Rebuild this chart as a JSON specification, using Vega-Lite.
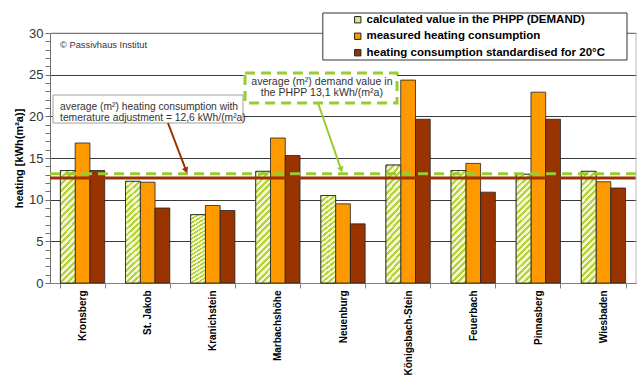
{
  "$schema": "https://vega.github.io/schema/vega-lite/v6.json",
  "width": 586,
  "height": 250,
  "autosize": {"type": "none"},
  "padding": {"left": 50, "top": 33, "right": 4, "bottom": 97},
  "background": "white",
  "config": {"font": "Liberation Sans", "view": {"stroke": null}},
  "datasets": {
    "bars": [
      {"site": "Kronsberg", "series": "calculated value in the PHPP (DEMAND)", "value": 13.5},
      {"site": "Kronsberg", "series": "measured heating consumption", "value": 16.8},
      {"site": "Kronsberg", "series": "heating consumption standardised for 20°C", "value": 13.5},
      {"site": "St. Jakob", "series": "calculated value in the PHPP (DEMAND)", "value": 12.2},
      {"site": "St. Jakob", "series": "measured heating consumption", "value": 12.1},
      {"site": "St. Jakob", "series": "heating consumption standardised for 20°C", "value": 9.0},
      {"site": "Kranichstein", "series": "calculated value in the PHPP (DEMAND)", "value": 8.2},
      {"site": "Kranichstein", "series": "measured heating consumption", "value": 9.3},
      {"site": "Kranichstein", "series": "heating consumption standardised for 20°C", "value": 8.7},
      {"site": "Marbachshöhe", "series": "calculated value in the PHPP (DEMAND)", "value": 13.4},
      {"site": "Marbachshöhe", "series": "measured heating consumption", "value": 17.4},
      {"site": "Marbachshöhe", "series": "heating consumption standardised for 20°C", "value": 15.3},
      {"site": "Neuenburg", "series": "calculated value in the PHPP (DEMAND)", "value": 10.5},
      {"site": "Neuenburg", "series": "measured heating consumption", "value": 9.5},
      {"site": "Neuenburg", "series": "heating consumption standardised for 20°C", "value": 7.1},
      {"site": "Königsbach-Stein", "series": "calculated value in the PHPP (DEMAND)", "value": 14.15},
      {"site": "Königsbach-Stein", "series": "measured heating consumption", "value": 24.35},
      {"site": "Königsbach-Stein", "series": "heating consumption standardised for 20°C", "value": 19.65},
      {"site": "Feuerbach", "series": "calculated value in the PHPP (DEMAND)", "value": 13.5},
      {"site": "Feuerbach", "series": "measured heating consumption", "value": 14.35},
      {"site": "Feuerbach", "series": "heating consumption standardised for 20°C", "value": 10.9},
      {"site": "Pinnasberg", "series": "calculated value in the PHPP (DEMAND)", "value": 13.05},
      {"site": "Pinnasberg", "series": "measured heating consumption", "value": 22.9},
      {"site": "Pinnasberg", "series": "heating consumption standardised for 20°C", "value": 19.65},
      {"site": "Wiesbaden", "series": "calculated value in the PHPP (DEMAND)", "value": 13.4},
      {"site": "Wiesbaden", "series": "measured heating consumption", "value": 12.15},
      {"site": "Wiesbaden", "series": "heating consumption standardised for 20°C", "value": 11.4}
    ]
  },
  "layer": [
    {
      "data": {"name": "bars"},
      "encoding": {
        "x": {
          "field": "site", "type": "nominal", "sort": null,
          "scale": {"paddingInner": 0.32, "paddingOuter": 0.16},
          "axis": {
            "title": null, "labelAngle": -90, "labelAlign": "right", "labelBaseline": "middle",
            "labelFont": "Liberation Sans", "labelFontWeight": "bold", "labelFontSize": 10,
            "labelColor": "#000000", "labelPadding": 2, "tickBand": "extent", "tickSize": 5,
            "tickColor": "#808080", "domainColor": "#808080", "grid": false
          }
        },
        "xOffset": {
          "field": "series", "type": "nominal",
          "sort": ["calculated value in the PHPP (DEMAND)", "measured heating consumption", "heating consumption standardised for 20°C"],
          "scale": {
            "domain": ["calculated value in the PHPP (DEMAND)", "measured heating consumption", "heating consumption standardised for 20°C"],
            "paddingInner": 0, "paddingOuter": 0
          }
        },
        "y": {
          "field": "value", "type": "quantitative",
          "scale": {"domain": [0, 30], "nice": false},
          "axis": {
            "title": "heating [kWh(m²a)]",
            "values": [0, 5, 10, 15, 20, 25, 30],
            "labelOverlap": false,
            "labelFont": "Liberation Sans", "labelFontSize": 13, "labelColor": "#333333",
            "labelPadding": 2, "tickSize": 5, "tickColor": "#707070", "domainColor": "#707070",
            "titleFont": "Liberation Sans", "titleFontWeight": "bold", "titleFontSize": 11,
            "titleColor": "#000000", "titlePadding": 4,
            "grid": true, "gridColor": "#3a3a3a", "gridOpacity": 1, "gridWidth": 1
          }
        }
      },
      "layer": [
        {
          "mark": {"type": "bar", "stroke": "#222222", "strokeWidth": 0.8},
          "encoding": {
            "color": {
              "field": "series", "type": "nominal",
              "scale": {
                "domain": ["calculated value in the PHPP (DEMAND)", "measured heating consumption", "heating consumption standardised for 20°C"],
                "range": ["#d6e98c", "#ff9900", "#993300"]
              },
              "legend": {
                "orient": "none", "legendX": 302, "legendY": -19, "title": null,
                "symbolType": "square", "symbolSize": 40, "symbolStrokeColor": "#222222", "symbolStrokeWidth": 1,
                "labelFont": "Liberation Sans", "labelFontWeight": "bold", "labelFontSize": 11.5,
                "labelColor": "#000000", "rowPadding": 3.5, "labelOffset": 3, "padding": 0, "labelLimit": 400
              }
            }
          }
        },
        {
          "transform": [{"filter": "datum.series === 'calculated value in the PHPP (DEMAND)'"}],
          "mark": {
            "type": "bar", "stroke": "#222222", "strokeWidth": 0.8,
            "fill": {
              "gradient": "linear", "x1": 0, "y1": 0, "x2": 1, "y2": 7.5,
              "stops": [
                {"offset": 0, "color": "#b4d23c"}, {"offset": 0.0034, "color": "#b4d23c"}, {"offset": 0.0034, "color": "#f2f8cc"},
                {"offset": 0.0076, "color": "#f2f8cc"}, {"offset": 0.0076, "color": "#b4d23c"}, {"offset": 0.011, "color": "#b4d23c"}, {"offset": 0.011, "color": "#f2f8cc"},
                {"offset": 0.0152, "color": "#f2f8cc"}, {"offset": 0.0152, "color": "#b4d23c"}, {"offset": 0.0186, "color": "#b4d23c"}, {"offset": 0.0186, "color": "#f2f8cc"},
                {"offset": 0.0228, "color": "#f2f8cc"}, {"offset": 0.0228, "color": "#b4d23c"}, {"offset": 0.0262, "color": "#b4d23c"}, {"offset": 0.0262, "color": "#f2f8cc"},
                {"offset": 0.0304, "color": "#f2f8cc"}, {"offset": 0.0304, "color": "#b4d23c"}, {"offset": 0.0338, "color": "#b4d23c"}, {"offset": 0.0338, "color": "#f2f8cc"},
                {"offset": 0.038, "color": "#f2f8cc"}, {"offset": 0.038, "color": "#b4d23c"}, {"offset": 0.0414, "color": "#b4d23c"}, {"offset": 0.0414, "color": "#f2f8cc"},
                {"offset": 0.0456, "color": "#f2f8cc"}, {"offset": 0.0456, "color": "#b4d23c"}, {"offset": 0.049, "color": "#b4d23c"}, {"offset": 0.049, "color": "#f2f8cc"},
                {"offset": 0.0532, "color": "#f2f8cc"}, {"offset": 0.0532, "color": "#b4d23c"}, {"offset": 0.0566, "color": "#b4d23c"}, {"offset": 0.0566, "color": "#f2f8cc"},
                {"offset": 0.0608, "color": "#f2f8cc"}, {"offset": 0.0608, "color": "#b4d23c"}, {"offset": 0.0642, "color": "#b4d23c"}, {"offset": 0.0642, "color": "#f2f8cc"},
                {"offset": 0.0684, "color": "#f2f8cc"}, {"offset": 0.0684, "color": "#b4d23c"}, {"offset": 0.0718, "color": "#b4d23c"}, {"offset": 0.0718, "color": "#f2f8cc"},
                {"offset": 0.076, "color": "#f2f8cc"}, {"offset": 0.076, "color": "#b4d23c"}, {"offset": 0.0794, "color": "#b4d23c"}, {"offset": 0.0794, "color": "#f2f8cc"},
                {"offset": 0.0836, "color": "#f2f8cc"}, {"offset": 0.0836, "color": "#b4d23c"}, {"offset": 0.087, "color": "#b4d23c"}, {"offset": 0.087, "color": "#f2f8cc"},
                {"offset": 0.0912, "color": "#f2f8cc"}, {"offset": 0.0912, "color": "#b4d23c"}, {"offset": 0.0946, "color": "#b4d23c"}, {"offset": 0.0946, "color": "#f2f8cc"},
                {"offset": 0.0988, "color": "#f2f8cc"}, {"offset": 0.0988, "color": "#b4d23c"}, {"offset": 0.1022, "color": "#b4d23c"}, {"offset": 0.1022, "color": "#f2f8cc"},
                {"offset": 0.1064, "color": "#f2f8cc"}, {"offset": 0.1064, "color": "#b4d23c"}, {"offset": 0.1098, "color": "#b4d23c"}, {"offset": 0.1098, "color": "#f2f8cc"},
                {"offset": 0.114, "color": "#f2f8cc"}, {"offset": 0.114, "color": "#b4d23c"}, {"offset": 0.1174, "color": "#b4d23c"}, {"offset": 0.1174, "color": "#f2f8cc"},
                {"offset": 0.1216, "color": "#f2f8cc"}, {"offset": 0.1216, "color": "#b4d23c"}, {"offset": 0.125, "color": "#b4d23c"}, {"offset": 0.125, "color": "#f2f8cc"},
                {"offset": 0.1292, "color": "#f2f8cc"}, {"offset": 0.1292, "color": "#b4d23c"}, {"offset": 0.1326, "color": "#b4d23c"}, {"offset": 0.1326, "color": "#f2f8cc"},
                {"offset": 0.1368, "color": "#f2f8cc"}, {"offset": 0.1368, "color": "#b4d23c"}, {"offset": 0.1402, "color": "#b4d23c"}, {"offset": 0.1402, "color": "#f2f8cc"},
                {"offset": 0.1444, "color": "#f2f8cc"}, {"offset": 0.1444, "color": "#b4d23c"}, {"offset": 0.1478, "color": "#b4d23c"}, {"offset": 0.1478, "color": "#f2f8cc"},
                {"offset": 0.152, "color": "#f2f8cc"}, {"offset": 0.152, "color": "#b4d23c"}, {"offset": 0.1554, "color": "#b4d23c"}, {"offset": 0.1554, "color": "#f2f8cc"},
                {"offset": 0.1596, "color": "#f2f8cc"}, {"offset": 0.1596, "color": "#b4d23c"}, {"offset": 0.163, "color": "#b4d23c"}, {"offset": 0.163, "color": "#f2f8cc"},
                {"offset": 1, "color": "#f2f8cc"}
              ]
            }
          }
        }
      ]
    },
    {
      "data": {"values": [{"value": 12.6}]},
      "mark": {"type": "rule", "color": "#993300", "strokeWidth": 3},
      "encoding": {
        "y": {
          "field": "value", "type": "quantitative",
          "axis": {
            "orient": "left", "title": null, "labels": false, "grid": false, "domain": false,
            "values": [1,2,3,4,6,7,8,9,11,12,13,14,16,17,18,19,21,22,23,24,26,27,28,29],
            "tickSize": 5, "tickColor": "#707070"
          }
        }
      }
    },
    {
      "data": {"values": [{"value": 13.1}]},
      "mark": {"type": "rule", "color": "#99cc33", "strokeWidth": 3, "strokeDash": [10, 6]},
      "encoding": {"y": {"field": "value", "type": "quantitative", "axis": null}}
    },
    {
      "layer": [
        {
          "data": {"values": [{"x": 0, "x2": 9, "value": 30}]},
          "mark": {"type": "rule", "color": "#b8b8b8", "strokeWidth": 1},
          "encoding": {
            "x": {"field": "x", "type": "quantitative", "scale": {"domain": [0, 9], "nice": false, "zero": false}, "axis": null},
            "x2": {"field": "x2"},
            "y": {"field": "value", "type": "quantitative", "axis": null}
          }
        },
        {
          "data": {"values": [{"x": 9, "value": 0, "value2": 30}]},
          "mark": {"type": "rule", "color": "#b8b8b8", "strokeWidth": 1},
          "encoding": {
            "x": {"field": "x", "type": "quantitative"},
            "y": {"field": "value", "type": "quantitative", "axis": null},
            "y2": {"field": "value2"}
          }
        },
        {
          "data": {"values": [{"x": 4.19, "x2": 8.862, "value": 32.4, "value2": 26.76}]},
          "mark": {"type": "rect", "fill": "white", "stroke": "#333333", "strokeWidth": 1},
          "encoding": {
            "x": {"field": "x", "type": "quantitative"}, "x2": {"field": "x2"},
            "y": {"field": "value", "type": "quantitative", "axis": null}, "y2": {"field": "value2"}
          }
        },
        {
          "data": {"values": [{"x": 0.046, "x2": 2.964, "value": 22.56, "value2": 19.2}]},
          "mark": {"type": "rect", "fill": "white", "stroke": "#a0a0a0", "strokeWidth": 1},
          "encoding": {
            "x": {"field": "x", "type": "quantitative"}, "x2": {"field": "x2"},
            "y": {"field": "value", "type": "quantitative", "axis": null}, "y2": {"field": "value2"}
          }
        },
        {
          "data": {"values": [{"x": 2.995, "x2": 5.33, "value": 25.2, "value2": 21.6}]},
          "mark": {"type": "rect", "fill": "white", "stroke": "#99cc33", "strokeWidth": 3, "strokeDash": [10, 6]},
          "encoding": {
            "x": {"field": "x", "type": "quantitative"}, "x2": {"field": "x2"},
            "y": {"field": "value", "type": "quantitative", "axis": null}, "y2": {"field": "value2"}
          }
        },
        {
          "data": {"values": [{"x": 1.812, "x2": 2.085, "value": 19.2, "value2": 13.6}]},
          "mark": {"type": "rule", "color": "#993300", "strokeWidth": 2},
          "encoding": {
            "x": {"field": "x", "type": "quantitative"}, "x2": {"field": "x2"},
            "y": {"field": "value", "type": "quantitative", "axis": null}, "y2": {"field": "value2"}
          }
        },
        {
          "data": {"values": [{"x": 2.09, "value": 13.5}]},
          "mark": {"type": "point", "shape": "triangle-down", "filled": true, "color": "#993300", "size": 45, "angle": -21, "opacity": 1},
          "encoding": {"x": {"field": "x", "type": "quantitative"}, "y": {"field": "value", "type": "quantitative", "axis": null}}
        },
        {
          "data": {"values": [{"x": 4.116, "x2": 4.465, "value": 21.6, "value2": 13.75}]},
          "mark": {"type": "rule", "color": "#99cc33", "strokeWidth": 2},
          "encoding": {
            "x": {"field": "x", "type": "quantitative"}, "x2": {"field": "x2"},
            "y": {"field": "value", "type": "quantitative", "axis": null}, "y2": {"field": "value2"}
          }
        },
        {
          "data": {"values": [{"x": 4.472, "value": 13.6}]},
          "mark": {"type": "point", "shape": "triangle-down", "filled": true, "color": "#99cc33", "size": 45, "angle": -19, "opacity": 1},
          "encoding": {"x": {"field": "x", "type": "quantitative"}, "y": {"field": "value", "type": "quantitative", "axis": null}}
        },
        {
          "data": {"values": [
            {"x": 0.154, "value": 21.16, "text": "average (m²) heating consumption with"},
            {"x": 0.154, "value": 19.76, "text": "temerature adjustment = 12,6 kWh/(m²a)"}
          ]},
          "mark": {"type": "text", "align": "left", "baseline": "middle", "font": "Liberation Sans", "fontSize": 10.3, "color": "#333333"},
          "encoding": {"x": {"field": "x", "type": "quantitative"}, "y": {"field": "value", "type": "quantitative", "axis": null}, "text": {"field": "text"}}
        },
        {
          "data": {"values": [
            {"x": 4.176, "value": 24.08, "text": "average (m²) demand value in"},
            {"x": 4.176, "value": 22.76, "text": "the PHPP 13,1 kWh/(m²a)"}
          ]},
          "mark": {"type": "text", "align": "center", "baseline": "middle", "font": "Liberation Sans", "fontSize": 10.6, "color": "#333333"},
          "encoding": {"x": {"field": "x", "type": "quantitative"}, "y": {"field": "value", "type": "quantitative", "axis": null}, "text": {"field": "text"}}
        },
        {
          "data": {"values": [{"x": 0.154, "value": 28.56, "text": "© Passivhaus Institut"}]},
          "mark": {"type": "text", "align": "left", "baseline": "middle", "font": "Liberation Sans", "fontSize": 9.3, "color": "#333333"},
          "encoding": {"x": {"field": "x", "type": "quantitative"}, "y": {"field": "value", "type": "quantitative", "axis": null}, "text": {"field": "text"}}
        }
      ]
    }
  ],
  "resolve": {"scale": {"x": "independent"}, "axis": {"x": "independent", "y": "independent"}}
}
